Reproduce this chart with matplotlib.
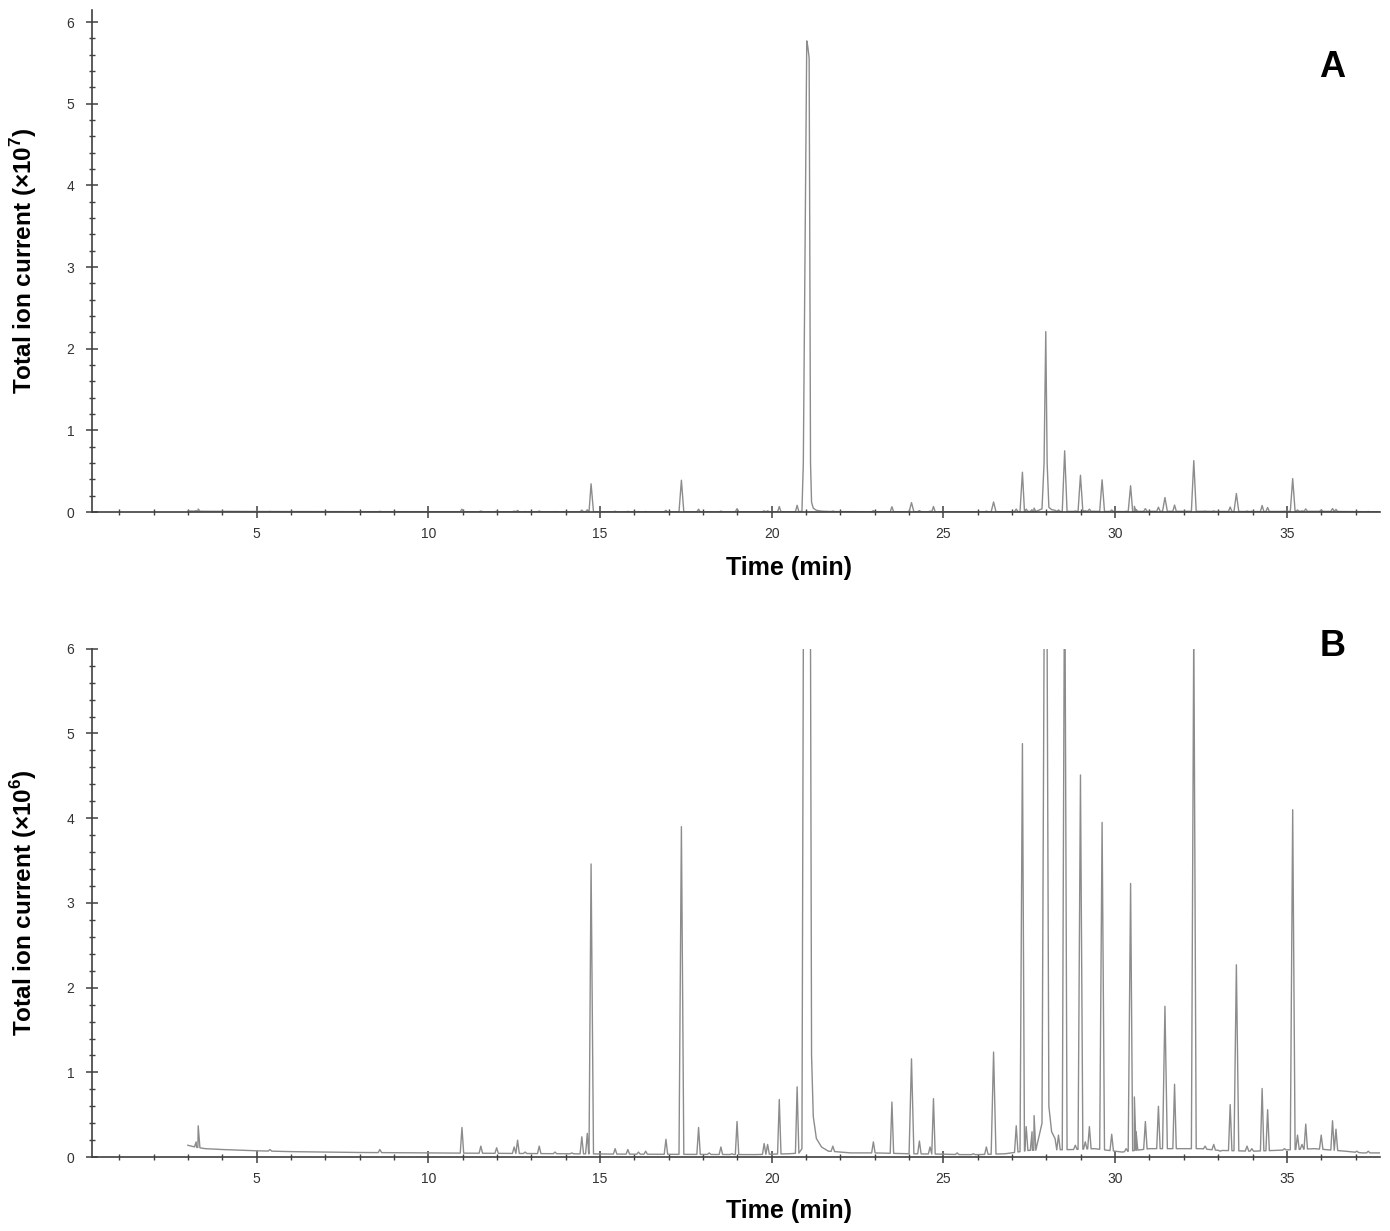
import numpy as np
import matplotlib
matplotlib.use('Agg')
import matplotlib.pyplot as plt
from matplotlib.ticker import MultipleLocator

plt.rcParams['font.family'] = ['Liberation Sans', 'DejaVu Sans']
plt.rcParams['mathtext.fontset'] = 'custom'
plt.rcParams['mathtext.rm'] = 'Liberation Sans'
plt.rcParams['mathtext.bf'] = 'Liberation Sans:bold'

# TIC trace, intensities in units of 1e6 counts, time in min
# baseline read at a few points
base_t = [3.0, 3.2, 3.5, 4.0, 5.0, 6.0, 8.0, 10.0, 12.0, 14.0, 16.0, 18.0, 19.5, 20.5,
          21.7, 22.3, 23.0, 24.0, 25.0, 25.5, 26.0, 26.8, 27.5, 28.8, 29.4, 30.2, 31.0,
          32.0, 32.5, 33.0, 34.0, 34.7, 35.8, 36.7, 37.2, 37.7]
base_v = [0.14, 0.12, 0.10, 0.09, 0.075, 0.065, 0.055, 0.05, 0.045, 0.04, 0.035, 0.032, 0.03, 0.04,
          0.07, 0.05, 0.05, 0.04, 0.035, 0.03, 0.03, 0.04, 0.08, 0.09, 0.10, 0.06, 0.10,
          0.10, 0.10, 0.08, 0.07, 0.08, 0.10, 0.07, 0.05, 0.05]

# ordinary peaks: retention time / apex height
peak_t = [3.24, 3.30, 5.39, 8.59, 10.98, 11.53, 11.99, 12.50, 12.60, 12.82, 13.23, 13.69,
          14.18, 14.47, 14.63, 14.74, 15.44, 15.81, 16.12, 16.33, 16.92, 17.37, 17.87, 18.18,
          18.52, 18.84, 18.99, 19.78, 19.88, 20.22, 20.74, 21.78, 22.58, 22.96, 23.50, 24.07,
          24.30, 24.61, 24.71, 25.40, 25.87, 26.25, 26.46, 27.12, 27.30, 27.41, 27.58, 27.64,
          28.35, 28.53, 28.84, 28.99, 29.13, 29.25, 29.62, 29.90, 30.32, 30.45, 30.56, 30.61,
          30.88, 31.26, 31.45, 31.73, 32.29, 32.62, 32.87, 33.06, 33.35, 33.53, 33.84, 33.98,
          34.28, 34.44, 34.93, 35.17, 35.31, 35.44, 35.55, 36.00, 36.33, 36.43, 37.04, 37.37]
peak_h = [0.18, 0.37, 0.09, 0.09, 0.35, 0.13, 0.11, 0.12, 0.20, 0.06, 0.13, 0.06,
          0.05, 0.24, 0.28, 3.46, 0.10, 0.09, 0.06, 0.07, 0.21, 3.90, 0.35, 0.05,
          0.12, 0.04, 0.42, 0.16, 0.15, 0.68, 0.83, 0.13, 0.05, 0.18, 0.65, 1.16,
          0.19, 0.12, 0.69, 0.05, 0.04, 0.12, 1.24, 0.37, 4.88, 0.36, 0.30, 0.49,
          0.26, 7.50, 0.14, 4.51, 0.18, 0.36, 3.95, 0.27, 0.10, 3.23, 0.71, 0.30,
          0.42, 0.60, 1.78, 0.86, 6.30, 0.13, 0.15, 0.07, 0.62, 2.27, 0.13, 0.10,
          0.81, 0.56, 0.10, 4.10, 0.26, 0.15, 0.39, 0.26, 0.43, 0.33, 0.07, 0.07]

# the two large, broad peaks (with tailing), read point by point
big_t = [20.88, 20.92, 21.02, 21.05, 21.09, 21.13, 21.16, 21.21, 21.30, 21.45, 21.65,
         27.87, 27.93, 27.98, 28.02, 28.07, 28.15, 28.25]
big_v = [0.10, 6.0, 57.7, 57.0, 55.6, 6.0, 1.2, 0.48, 0.22, 0.12, 0.07,
         0.40, 6.0, 22.1, 6.0, 0.6, 0.30, 0.22]

# assemble the trace
pk_t = np.array(peak_t)
pk_h = np.array(peak_h)
hw = np.where(pk_h > 1, 0.07, 0.05)
pts = list(zip(big_t, big_v))
for t, h, w in zip(pk_t, pk_h, hw):
    pts.append((t, h))
    for f in (t - w, t + w):
        lo, hi = min(f, t), max(f, t)
        if np.any((pk_t > lo) & (pk_t < hi)):
            continue
        pts.append((f, float(np.interp(f, base_t, base_v))))
for t, v in zip(base_t, base_v):
    if np.any(np.abs(pk_t - t) < hw) or (20.8 < t < 21.7) or (27.8 < t < 28.3):
        continue
    pts.append((t, v))
pts.sort()
tt = np.array([p[0] for p in pts])
vv = np.array([p[1] for p in pts])

fig = plt.figure(figsize=(13.9, 12.31), dpi=100)
axA = fig.add_axes([0.066, 0.584, 0.927, 0.408])
axB = fig.add_axes([0.066, 0.060, 0.927, 0.413])

line_c = '#8c8c8c'
axA.plot(tt, vv / 10.0, color=line_c, lw=1.0)
axB.plot(tt, vv, color=line_c, lw=1.0)

for ax, top, exp, lab in [(axA, 6.15, '7', 'A'), (axB, 6.0, '6', 'B')]:
    ax.set_xlim(0.2, 37.72)
    ax.set_ylim(0, top)
    ax.spines['top'].set_visible(False)
    ax.spines['right'].set_visible(False)
    for s in ('left', 'bottom'):
        ax.spines[s].set_color('#404040')
        ax.spines[s].set_linewidth(1.2)
    ax.xaxis.set_major_locator(MultipleLocator(5))
    ax.xaxis.set_minor_locator(MultipleLocator(1))
    ax.yaxis.set_major_locator(MultipleLocator(1))
    ax.yaxis.set_minor_locator(MultipleLocator(0.2))
    ax.tick_params(which='major', direction='inout', length=9, width=1.1,
                   color='#404040', labelsize=10, labelcolor='#333333')
    ax.tick_params(which='minor', direction='inout', length=5, width=1.0, color='#404040')
    ax.tick_params(axis='x', pad=6)
    ax.tick_params(axis='y', pad=8)
    ax.set_xlabel('Time (min)', fontsize=18, fontweight='bold')
    ax.xaxis.set_label_coords(0.541, -0.087 if lab == 'A' else -0.082)
    ax.set_ylabel('Total ion current (×10$^{\\mathbf{' + exp + '}}$)',
                  fontsize=17.5, fontweight='bold', labelpad=20)
    ax.text(0.963, 0.886 if lab == 'A' else 1.005, lab, transform=ax.transAxes,
            fontsize=26, fontweight='bold', ha='center', va='center', clip_on=False)

fig.savefig('out.png', dpi=100)
